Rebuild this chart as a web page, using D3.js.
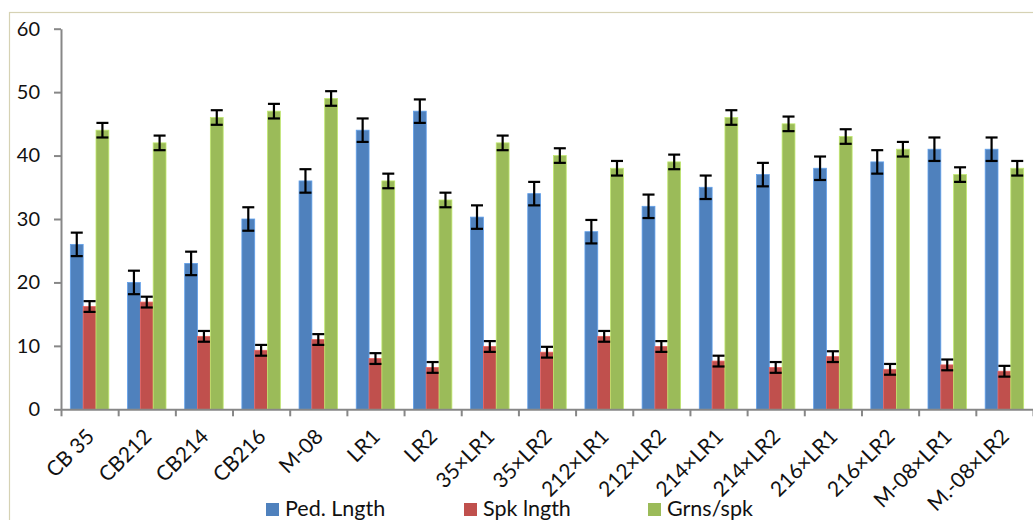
<!DOCTYPE html>
<html>
<head>
<meta charset="utf-8">
<script src="https://cdn.jsdelivr.net/npm/d3@7"></script>
<style>
  html, body { margin: 0; padding: 0; background: #fff; }
  svg { display: block; font-family: Lato, "Open Sans", sans-serif; }
</style>
</head>
<body>
<svg id="chart" width="1033" height="520"></svg>
<script>
const categories = ["CB 35","CB212","CB214","CB216","M-08","LR1","LR2","35×LR1","35×LR2","212×LR1","212×LR2","214×LR1","214×LR2","216×LR1","216×LR2","M-08×LR1","M.-08×LR2"];
const seriesNames = ["Ped. Lngth","Spk lngth","Grns/spk"];
const pedLength = [26,20,23,30,36,44,47,30.3,34,28,32,35,37,38,39,41,41];
const spkLength = [16.2,16.9,11.5,9.3,11,8,6.6,9.9,9,11.5,9.9,7.6,6.6,8.3,6.3,7,6];
const grnsSpk  = [44,42,46,47,49,36,33,42,40,38,39,46,45,43,41,37,38];
const errPed = 1.85, errSpk = 0.85, errGrn = 1.15;
const yTicks = [0,10,20,30,40,50,60];
const colors = ["#4F81BD","#C0504D","#9BBB59"];

const svg = d3.select("#chart");
const mLeft = 61, mRight = 1033, mTop = 28.7, mBottom = 409.3;
const textColor = "#111";

// chart area border (partially cropped)
svg.append("rect").attr("x",9.5).attr("y",12.5).attr("width",1040).attr("height",520)
  .attr("fill","none").attr("stroke","#d6d2b4").attr("stroke-width",1.2);

const y = d3.scaleLinear().domain([0,60]).range([mBottom, mTop]);
const x0 = d3.scaleBand().domain(categories).range([mLeft, mRight]).paddingInner(0.327).paddingOuter(0.1635);
const x1 = d3.scaleBand().domain(seriesNames).range([0, x0.bandwidth()]).padding(0);
const idx = d3.scaleLinear().domain([0, categories.length]).range([mLeft, mRight]);

const data = categories.map((c,i)=>({cat:c, vals:[
  {s:seriesNames[0], v:pedLength[i], e:errPed, c:colors[0]},
  {s:seriesNames[1], v:spkLength[i], e:errSpk, c:colors[1]},
  {s:seriesNames[2], v:grnsSpk[i], e:errGrn, c:colors[2]}
]}));

const groups = svg.append("g").selectAll("g").data(data).join("g")
  .attr("transform", d=>`translate(${x0(d.cat)},0)`);

groups.selectAll("rect").data(d=>d.vals).join("rect")
  .attr("x", d=>x1(d.s)).attr("width", x1.bandwidth())
  .attr("y", d=>y(d.v)).attr("height", d=>y(0)-y(d.v))
  .attr("fill", d=>d.c)
  .attr("stroke", d=>d3.color(d.c).brighter(0.6)).attr("stroke-width",0.8);

// error bars
const eb = groups.selectAll("g.eb").data(d=>d.vals).join("g").attr("class","eb")
  .attr("stroke","#000").attr("stroke-width",2.2);
eb.append("line").attr("x1",d=>x1(d.s)+x1.bandwidth()/2).attr("x2",d=>x1(d.s)+x1.bandwidth()/2)
  .attr("y1",d=>y(d.v+d.e)).attr("y2",d=>y(d.v-d.e));
eb.append("line").attr("x1",d=>x1(d.s)+x1.bandwidth()/2-6).attr("x2",d=>x1(d.s)+x1.bandwidth()/2+6)
  .attr("y1",d=>y(d.v+d.e)).attr("y2",d=>y(d.v+d.e));
eb.append("line").attr("x1",d=>x1(d.s)+x1.bandwidth()/2-6).attr("x2",d=>x1(d.s)+x1.bandwidth()/2+6)
  .attr("y1",d=>y(d.v-d.e)).attr("y2",d=>y(d.v-d.e));

// y axis
const yAxis = svg.append("g").attr("transform",`translate(${mLeft},0)`)
  .call(d3.axisLeft(y).tickValues(yTicks).tickSize(7).tickPadding(14).tickSizeOuter(0));
yAxis.select(".domain").attr("stroke","#878787").attr("stroke-width",2);
yAxis.selectAll(".tick line").attr("stroke","#878787").attr("stroke-width",2);
yAxis.selectAll(".tick text").attr("font-size",20).attr("fill",textColor).attr("font-family","Lato, sans-serif");

// x axis with tick marks at category boundaries
const xAxis = svg.append("g").attr("transform",`translate(0,${mBottom})`)
  .call(d3.axisBottom(idx).tickValues(d3.range(0, categories.length+1)).tickSize(7).tickFormat("").tickSizeOuter(0));
xAxis.select(".domain").attr("stroke","#878787").attr("stroke-width",2);
xAxis.selectAll(".tick line").attr("stroke","#878787").attr("stroke-width",2);

// rotated category labels
svg.append("g").selectAll("text").data(categories).join("text")
  .attr("transform", d=>`translate(${x0(d)+x0.bandwidth()/2+6},${438}) rotate(-45)`)
  .attr("text-anchor","end").attr("font-size",21).attr("fill",textColor)
  .text(d=>d);

// legend
const legX = [266, 464, 648];
const leg = svg.append("g").selectAll("g").data(seriesNames).join("g")
  .attr("transform",(d,i)=>`translate(${legX[i]},0)`);
leg.append("rect").attr("x",0).attr("y",503).attr("width",13).attr("height",13).attr("fill",(d,i)=>colors[i]);
leg.append("text").attr("x",19).attr("y",516).attr("font-size",21.5).attr("fill",textColor).text(d=>d);
</script>
</body>
</html>
